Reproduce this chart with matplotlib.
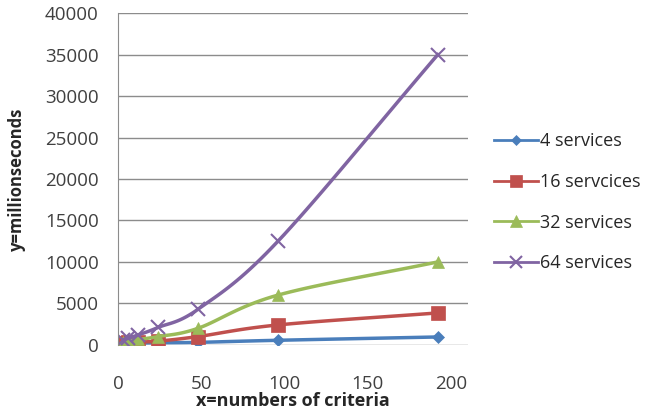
import matplotlib.pyplot as plt
import numpy as np

plt.rcParams['font.family'] = ['Open Sans', 'DejaVu Sans']

criteria = [3, 6, 12, 24, 48, 96, 192]
s4 = [100, 150, 200, 250, 300, 550, 950]
s16 = [250, 300, 350, 450, 1000, 2400, 3850]
s32 = [400, 500, 650, 1000, 2000, 6000, 10000]
s64 = [600, 800, 1200, 2100, 4300, 12500, 35000]

labels = ['4 services', '16 servcices', '32 services', '64 services']
colors = ['#4A7EBB', '#C0504D', '#9BBB59', '#8064A2']
markers = ['D', 's', '^', 'x']
msizes = [6, 10, 9, 10]


def smooth(x, y, n=20):
    # Catmull-Rom curve through the points, like Excel's smoothed line
    x = np.asarray(x, float)
    y = np.asarray(y, float)
    px = np.concatenate([[2 * x[0] - x[1]], x, [2 * x[-1] - x[-2]]])
    py = np.concatenate([[2 * y[0] - y[1]], y, [2 * y[-1] - y[-2]]])
    ox, oy = [], []
    t = np.linspace(0, 1, n)
    for i in range(1, len(px) - 2):
        for p, o in ((px, ox), (py, oy)):
            p0, p1, p2, p3 = p[i - 1], p[i], p[i + 1], p[i + 2]
            o.extend(0.5 * (2 * p1 + (-p0 + p2) * t
                            + (2 * p0 - 5 * p1 + 4 * p2 - p3) * t ** 2
                            + (-p0 + 3 * p1 - 3 * p2 + p3) * t ** 3))
    return ox, oy


fig = plt.figure(figsize=(6.46, 4.12), dpi=100)
ax = fig.add_axes([0.183, 0.163, 0.541, 0.805])

for ys, lab, c, m, ms in zip([s4, s16, s32, s64], labels, colors, markers, msizes):
    sx, sy = smooth(criteria, ys)
    ax.plot(sx, sy, color=c, linewidth=2.5)
    ax.plot(criteria, ys, linestyle='none', marker=m, color=c, markersize=ms,
            markeredgewidth=1.5 if m == 'x' else 0.5)
    ax.plot([], [], color=c, linewidth=2, marker=m, markersize=ms * 0.9,
            markeredgewidth=1.5 if m == 'x' else 0.5, label=lab)

ax.set_xlim(0, 210)
ax.set_ylim(0, 40000)
ax.set_xticks([0, 50, 100, 150, 200])
ax.set_yticks(np.arange(0, 40001, 5000))
ax.yaxis.grid(True, color='#8C8C8C', linewidth=1)
ax.set_axisbelow(True)
ax.tick_params(length=0, labelsize=13.5, labelcolor='#404040')
ax.tick_params(axis='y', pad=14)
ax.tick_params(axis='x', pad=22)
for s in ['top', 'right', 'bottom']:
    ax.spines[s].set_visible(False)
ax.spines['left'].set_color('#8C8C8C')

ax.set_xlabel('x=numbers of criteria', fontsize=13, fontweight='bold',
              color='#262626', labelpad=-1)
ax.set_ylabel('y=millionseconds', fontsize=12, fontweight='bold',
              color='#262626', labelpad=14)

ax.legend(loc='center left', bbox_to_anchor=(1.03, 0.43), frameon=False,
          fontsize=13, labelcolor='#262626', handlelength=2.4,
          handletextpad=0.1, labelspacing=1.25)

fig.savefig('out.png', dpi=100, facecolor='white')
